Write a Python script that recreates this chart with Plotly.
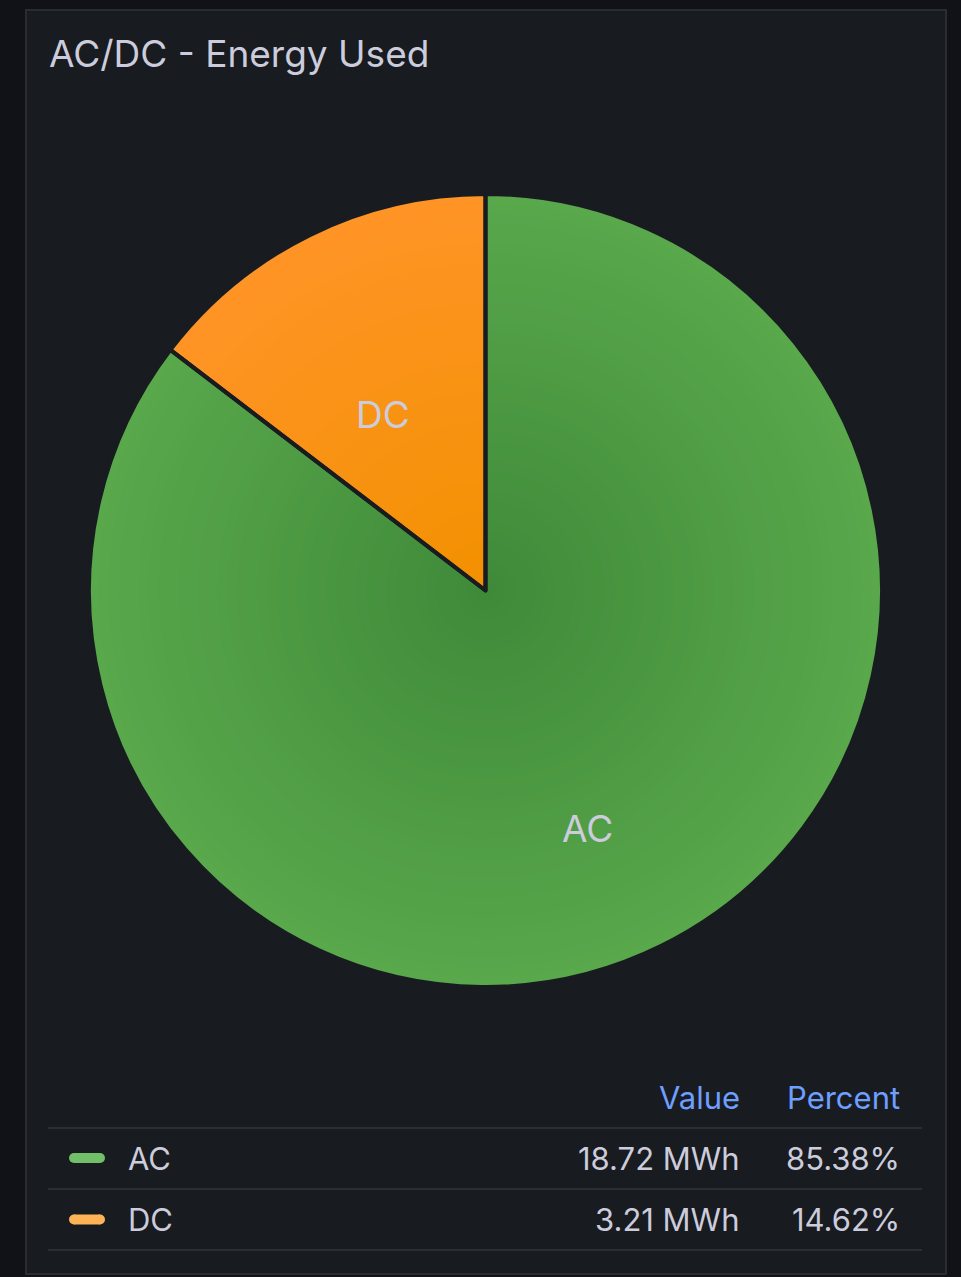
import math
import plotly.graph_objects as go

W, H = 961, 1277

labels = ["AC", "DC"]
values = [18.724, 3.206]          # MWh
unit = "MWh"
edge_colors = ["#59a84c", "#ff9426"]
center_colors = ["#3f8a39", "#f29100"]
legend_colors = ["#73bf69", "#ffb357"]
title = "AC/DC - Energy Used"
headers = ["Value", "Percent"]

FONT = "Inter"
TEXT = "#ccccdc"


def px(x):
    return x / W


def py(y):
    return 1 - y / H


def mix(c1, c2, t):
    a = [int(c1[i:i + 2], 16) for i in (1, 3, 5)]
    b = [int(c2[i:i + 2], 16) for i in (1, 3, 5)]
    return "rgb({},{},{})".format(*[round(a[k] + (b[k] - a[k]) * t) for k in range(3)])


fig = go.Figure()

# pie position in pixels (center + radius)
cx, cy, R = 485.5, 590.5, 394.5
Rd = R + 2          # plotly draws the pie a little inside its domain
N = 40
# stacked pies of shrinking size to fake the radial gradient
for i in range(N):
    r = Rd * (1 - i / N)
    t = 1 - (i + 0.5) / N       # 1 at edge, 0 at center
    cols = [mix(center_colors[k], edge_colors[k], t) for k in range(len(labels))]
    fig.add_trace(go.Pie(
        labels=labels, values=values, sort=False, direction="clockwise",
        domain=dict(x=[px(cx - r), px(cx + r)], y=[py(cy + r), py(cy - r)]),
        marker=dict(colors=cols, line=dict(width=0)),
        textinfo="none", hoverinfo="skip", showlegend=False,
    ))

# top layer: slice separators
fig.add_trace(go.Pie(
    labels=labels, values=values, sort=False, direction="clockwise",
    domain=dict(x=[px(cx - Rd), px(cx + Rd)], y=[py(cy + Rd), py(cy - Rd)]),
    marker=dict(colors=["rgba(0,0,0,0)"] * len(labels), line=dict(color="#181b1f", width=4)),
    textinfo="none", showlegend=False,
))

shapes = []
ann = []
total = sum(values)

# slice labels at the mid angle of each slice
start = 0.0
for k, lab in enumerate(labels):
    frac = values[k] / total
    mid = (start + frac / 2) * 2 * math.pi     # clockwise from 12 o'clock
    start += frac
    lx = cx + 0.586 * R * math.sin(mid)
    ly = cy - 0.586 * R * math.cos(mid) + 31
    ann.append(dict(text=lab, x=px(lx), y=py(ly), xanchor="center", yanchor="middle",
                    font=dict(family=FONT, size=37, color=TEXT)))

# panel
shapes.append(dict(type="rect", xref="paper", yref="paper", layer="below",
                   x0=px(26), x1=px(946), y0=py(1274), y1=py(10),
                   fillcolor="#181b1f", line=dict(color="#2a2c32", width=2)))
ann.append(dict(text=title, x=px(47), y=py(53), xanchor="left", yanchor="middle",
                font=dict(family=FONT, size=37, color=TEXT)))

# legend table
ann.append(dict(text=headers[0], x=px(742), y=py(1097), xanchor="right", yanchor="middle",
                font=dict(family=FONT, size=31, color="#6e9fff")))
ann.append(dict(text=headers[1], x=px(902), y=py(1097), xanchor="right", yanchor="middle",
                font=dict(family=FONT, size=31, color="#6e9fff")))
for yl in (1128, 1189, 1250):
    shapes.append(dict(type="line", xref="paper", yref="paper", x0=px(48), x1=px(922),
                       y0=py(yl), y1=py(yl), line=dict(color="#2c2e34", width=2)))
for k, lab in enumerate(labels):
    yr = 1158 + k * 61.5
    shapes.append(dict(type="line", xref="paper", yref="paper", x0=px(74), x1=px(100),
                       y0=py(yr), y1=py(yr), line=dict(color=legend_colors[k], width=10)))
    shapes.append(dict(type="circle", xref="paper", yref="paper", x0=px(69), x1=px(79),
                       y0=py(yr + 5), y1=py(yr - 5), fillcolor=legend_colors[k], line=dict(width=0)))
    shapes.append(dict(type="circle", xref="paper", yref="paper", x0=px(95), x1=px(105),
                       y0=py(yr + 5), y1=py(yr - 5), fillcolor=legend_colors[k], line=dict(width=0)))
    ann.append(dict(text=lab, x=px(126), y=py(yr), xanchor="left", yanchor="middle",
                    font=dict(family=FONT, size=31, color=TEXT)))
    ann.append(dict(text="{:.2f} {}".format(values[k], unit), x=px(742), y=py(yr),
                    xanchor="right", yanchor="middle",
                    font=dict(family=FONT, size=31, color=TEXT)))
    ann.append(dict(text="{:.2f}%".format(values[k] / total * 100), x=px(902), y=py(yr),
                    xanchor="right", yanchor="middle",
                    font=dict(family=FONT, size=31, color=TEXT)))

for a in ann:
    a.update(xref="paper", yref="paper", showarrow=False)

fig.update_layout(
    width=W, height=H, margin=dict(l=0, r=0, t=0, b=0),
    paper_bgcolor="#111217", plot_bgcolor="#111217",
    shapes=shapes, annotations=ann, showlegend=False,
)

fig.write_html("out.html", config={"displayModeBar": False},
               post_script="document.body.style.margin='0';"
                           "document.body.style.background='#111217';")
